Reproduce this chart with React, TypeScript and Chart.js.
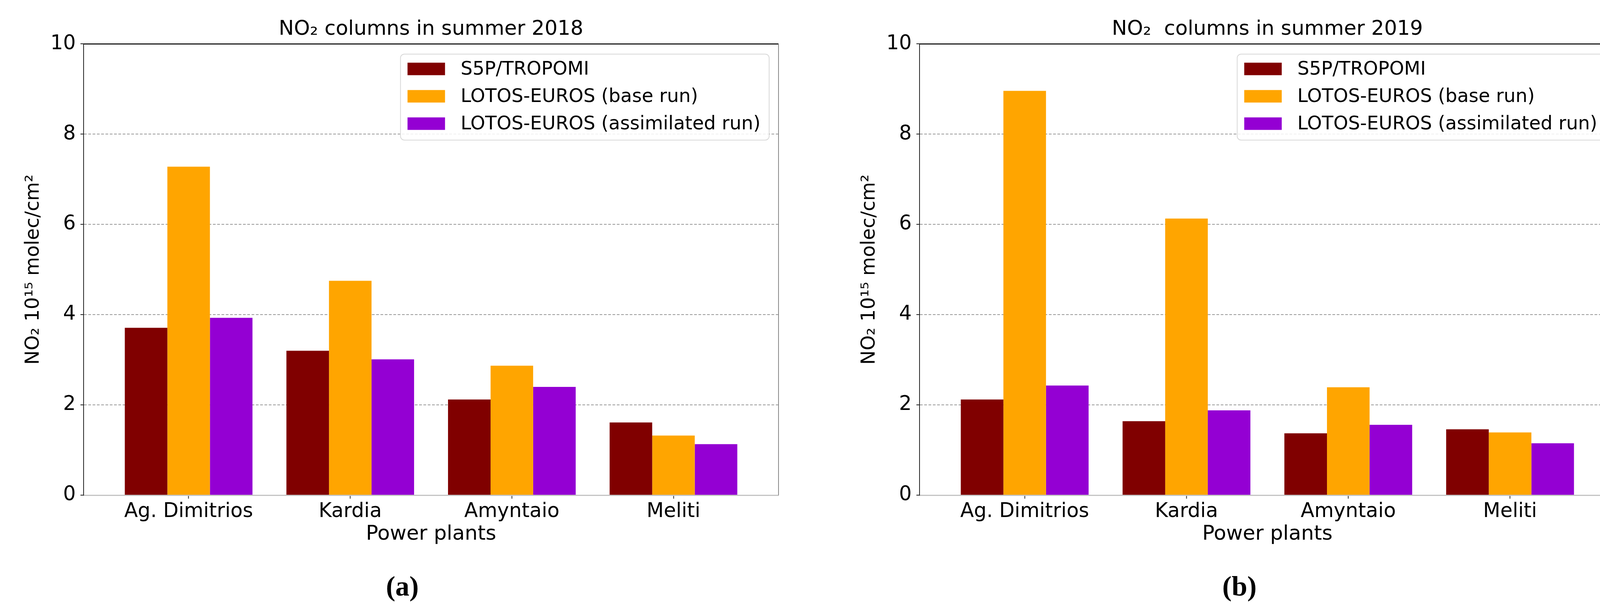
import React, { useEffect, useRef } from "react";
import { Chart, registerables } from "chart.js";

Chart.register(...registerables);

const categories = ["Ag. Dimitrios", "Kardia", "Amyntaio", "Meliti"];
const seriesLabels = ["S5P/TROPOMI", "LOTOS-EUROS (base run)", "LOTOS-EUROS (assimilated run)"];
const seriesColors = ["#800000", "#FFA500", "#9400D3"];

const s5p2018 = [3.71, 3.2, 2.12, 1.61];
const base2018 = [7.28, 4.75, 2.87, 1.32];
const assim2018 = [3.93, 3.01, 2.4, 1.13];

const s5p2019 = [2.12, 1.64, 1.37, 1.46];
const base2019 = [8.96, 6.13, 2.39, 1.39];
const assim2019 = [2.43, 1.88, 1.56, 1.15];

const yMin = 0;
const yMax = 10;
const yStep = 2;

const title2018 = "NO₂ columns in summer 2018";
const title2019 = "NO₂  columns in summer 2019";
const xTitle = "Power plants";
const yTitle = "NO₂ 10¹⁵ molec/cm²";
const panelA = "(a)";
const panelB = "(b)";

const FONT = "'DejaVu Sans', 'Liberation Sans', sans-serif";

const frameLegendPlugin = {
  id: "frameLegend",
  afterDatasetsDraw(chart: any) {
    const { ctx, chartArea: a } = chart;
    ctx.save();
    ctx.lineWidth = 3;
    ctx.strokeStyle = "#222";
    ctx.beginPath();
    ctx.moveTo(a.left - 1, a.top);
    ctx.lineTo(a.right, a.top);
    ctx.stroke();
    ctx.lineWidth = 2;
    ctx.strokeStyle = "#888";
    ctx.beginPath();
    ctx.moveTo(a.right, a.top);
    ctx.lineTo(a.right, a.bottom);
    ctx.stroke();
    ctx.restore();
  },
  afterDraw(chart: any) {
    const { ctx, chartArea: a } = chart;
    const ds = chart.data.datasets;
    ctx.save();
    ctx.font = `48px ${FONT}`;
    let maxW = 0;
    ds.forEach((d: any) => {
      maxW = Math.max(maxW, ctx.measureText(d.label).width);
    });
    const padL = 18;
    const sw = 96;
    const sh = 32;
    const gap = 40;
    const padR = 22;
    const w = padL + sw + gap + maxW + padR;
    const h = 220;
    const right = a.right - 24;
    const left = right - w;
    const top = a.top + 26;
    ctx.beginPath();
    ctx.roundRect(left, top, w, h, 10);
    ctx.fillStyle = "rgba(255,255,255,0.85)";
    ctx.fill();
    ctx.lineWidth = 2;
    ctx.strokeStyle = "#d8d8d8";
    ctx.stroke();
    ds.forEach((d: any, i: number) => {
      const cy = top + 38 + i * 70;
      ctx.fillStyle = d.backgroundColor;
      ctx.fillRect(left + padL, cy - sh / 2, sw, sh);
      ctx.fillStyle = "#000";
      ctx.textBaseline = "middle";
      ctx.textAlign = "left";
      ctx.fillText(d.label, left + padL + sw + gap, cy + 2);
    });
    ctx.restore();
  },
};

type PanelProps = {
  series: number[][];
  title: string;
  padLeft: number;
  padRight: number;
};

function Panel({ series, title, padLeft, padRight }: PanelProps) {
  const ref = useRef<HTMLCanvasElement | null>(null);
  useEffect(() => {
    if (!ref.current) return;
    const chart = new Chart(ref.current, {
      type: "bar",
      data: {
        datasets: series.map((vals, s) => ({
          label: seriesLabels[s],
          backgroundColor: seriesColors[s],
          borderWidth: 0,
          data: categories.map((_, i) => ({ x: i, y: vals[i] })),
          categoryPercentage: 0.79,
          barPercentage: 1.0,
        })),
      },
      options: {
        animation: false,
        responsive: false,
        maintainAspectRatio: false,
        devicePixelRatio: 1,
        layout: { padding: { left: padLeft, right: padRight, top: 0, bottom: 167 } },
        plugins: {
          legend: { display: false },
          tooltip: { enabled: false },
          title: {
            display: true,
            text: title,
            fullSize: false,
            color: "#000",
            font: { family: FONT, size: 52, weight: "normal" },
            padding: { top: 44, bottom: 6 },
          },
        },
        scales: {
          x: {
            type: "linear",
            min: -0.65,
            max: 3.65,
            offset: false,
            afterBuildTicks: (axis: any) => {
              axis.ticks = categories.map((_, i) => ({ value: i }));
            },
            afterFit: (s: any) => {
              s.height = 132;
            },
            ticks: {
              autoSkip: false,
              maxRotation: 0,
              padding: 3,
              color: "#000",
              font: { family: FONT, size: 51 },
              callback: (_v: any, idx: number) => categories[idx] ?? "",
            },
            grid: {
              display: true,
              drawOnChartArea: false,
              drawTicks: true,
              tickLength: 9,
              tickColor: "#333",
              tickWidth: 2,
              offset: false,
            },
            border: { display: true, color: "#c4c4c4", width: 3 },
            title: {
              display: true,
              text: xTitle,
              color: "#000",
              font: { family: FONT, size: 52 },
              padding: { top: 0, bottom: 0 },
            },
          },
          y: {
            min: yMin,
            max: yMax,
            afterFit: (s: any) => {
              s.width = 214;
            },
            ticks: {
              stepSize: yStep,
              padding: 12,
              color: "#000",
              font: { family: FONT, size: 51 },
            },
            grid: {
              color: (c: any) =>
                c.tick && (c.tick.value === yMin || c.tick.value === yMax) ? "rgba(0,0,0,0)" : "#9a9a9a",
              lineWidth: 2,
              tickLength: 8,
              tickColor: "#222",
              tickWidth: 2,
              tickBorderDash: [],
            },
            border: { display: true, color: "#222", width: 2, dash: [7, 4] },
            title: {
              display: true,
              text: yTitle,
              color: "#000",
              font: { family: FONT, size: 49 },
              padding: { top: 57, bottom: 0 },
            },
          },
        },
      },
      plugins: [frameLegendPlugin],
    } as any);
    return () => chart.destroy();
  }, [series, title, padLeft, padRight]);
  return <canvas ref={ref} width={2090} height={1566} style={{ width: 2090, height: 1566, display: "block" }} />;
}

const labelStyle: React.CSSProperties = {
  position: "absolute",
  top: 1500,
  transform: "translate(-50%, -50%)",
  fontFamily: "'Liberation Serif', 'DejaVu Serif', serif",
  fontWeight: "bold",
  fontSize: 72,
  lineHeight: 1,
  color: "#000",
};

const seriesA = [s5p2018, base2018, assim2018];
const seriesB = [s5p2019, base2019, assim2019];

export default function App() {
  return (
    <div
      style={{
        position: "fixed",
        left: 0,
        top: 0,
        width: 4180,
        height: 1566,
        background: "#fff",
        overflow: "hidden",
      }}
    >
      <div style={{ position: "absolute", left: 0, top: 0 }}>
        <Panel series={seriesA} title={title2018} padLeft={0} padRight={97} />
      </div>
      <div style={{ position: "absolute", left: 2090, top: 0 }}>
        <Panel series={seriesB} title={title2019} padLeft={50} padRight={45} />
      </div>
      <div style={{ ...labelStyle, left: 1030 }}>{panelA}</div>
      <div style={{ ...labelStyle, left: 3173 }}>{panelB}</div>
    </div>
  );
}
